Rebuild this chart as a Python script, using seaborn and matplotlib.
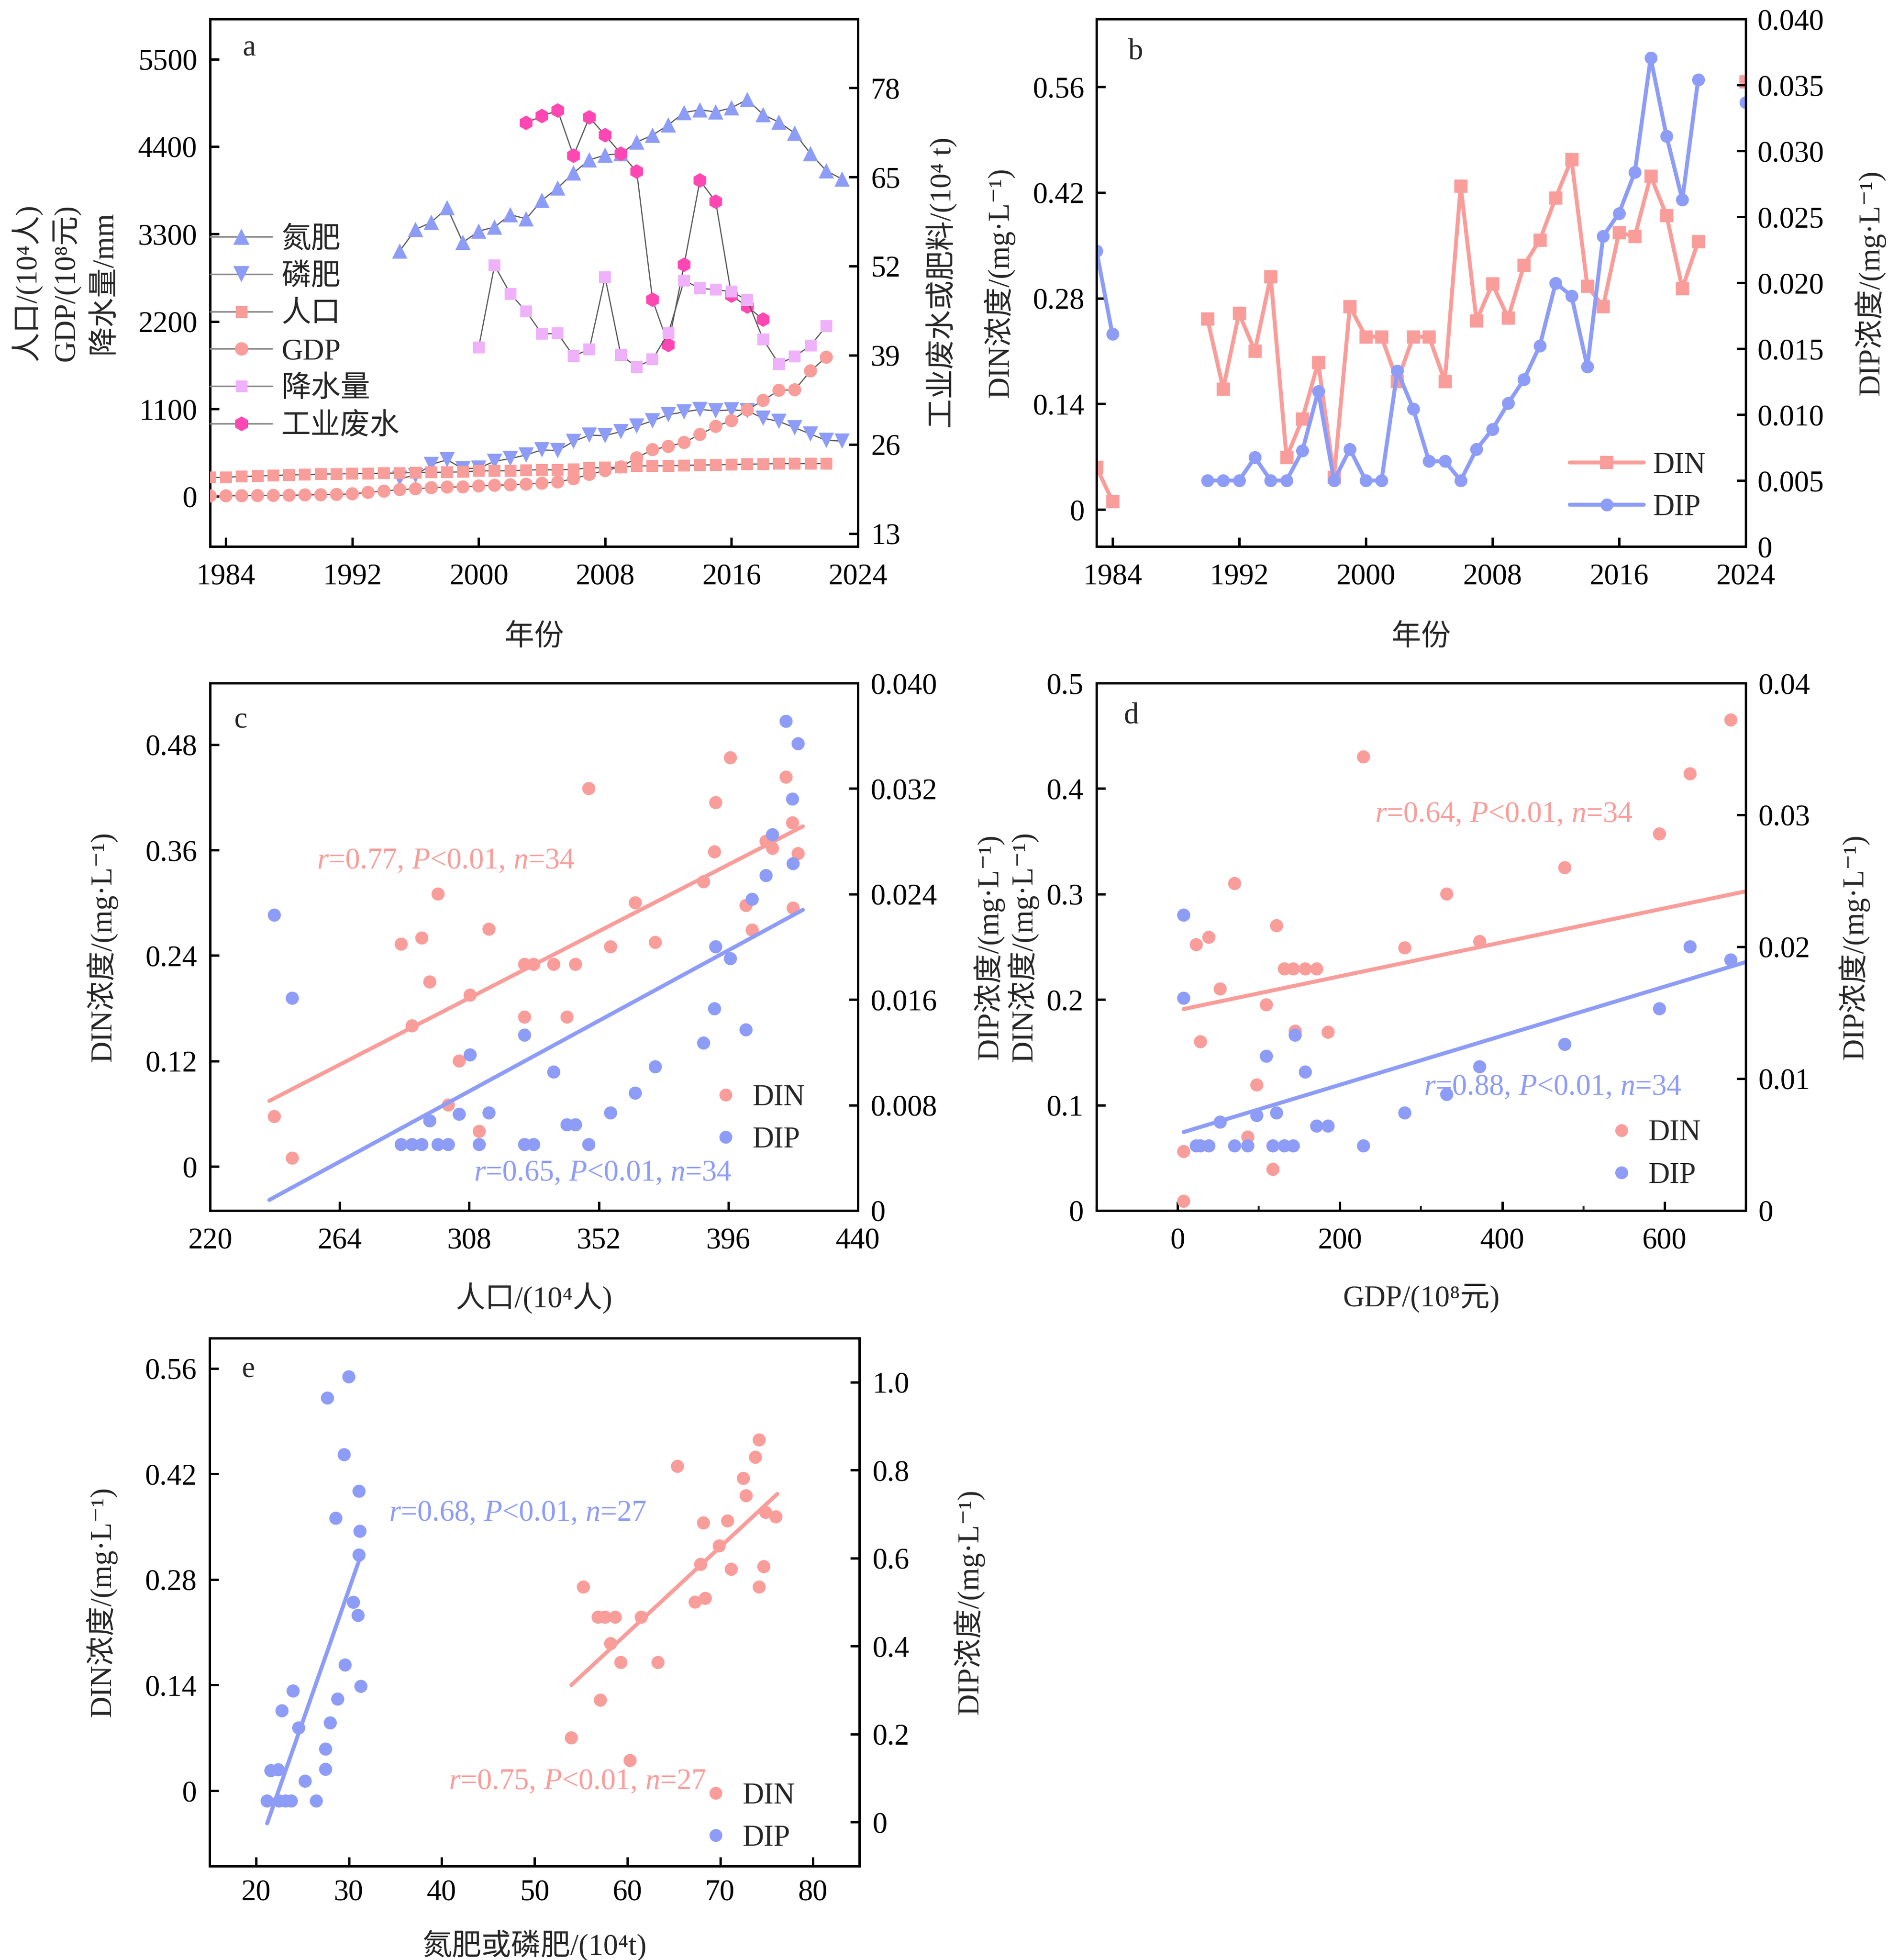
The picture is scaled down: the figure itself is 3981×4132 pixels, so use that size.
import numpy as np
import pandas as pd
import seaborn as sns
import matplotlib.pyplot as plt
from matplotlib.lines import Line2D
from matplotlib.ticker import MultipleLocator

# %% data: panel a (annual series)
years_a = list(range(1983, 2023))
pop = [236, 240, 250, 256, 262, 270, 272, 280, 282, 286, 288, 290, 294, 300, 302, 304, 308, 320, 322, 322, 330,
       336, 332, 340, 356, 362, 366, 382, 384, 384, 390, 394, 396, 402, 404, 408, 412, 412, 412, 414]
gdp = [6, 7, 8, 10, 12, 14, 18, 20, 24, 32, 50, 66, 85, 95, 109, 117, 119, 131, 139, 145, 153,
       165, 181, 221, 276, 324, 370, 485, 588, 628, 678, 779, 880, 952, 1087, 1207, 1334, 1340, 1578, 1750]
years_precip = list(range(2000, 2023))
precip = [1875, 2905, 2548, 2327, 2043, 2049, 1765, 1849, 2753, 1776, 1628, 1723, 2054, 2716, 2616, 2600,
          2574, 2469, 1975, 1665, 1760, 1896, 2143]
years_fert = list(range(1995, 2024))
n_fert = [54.2, 57.35, 58.39, 60.52, 55.46, 57.1, 57.7, 59.5, 58.9, 61.6, 63.4, 65.6, 67.5, 68.2, 68.4, 70.1,
          71.1, 72.6, 74.4, 74.8, 74.5, 75.1, 76.3, 74.1, 73.0, 71.4, 68.4, 65.9, 64.7]
p_fert = [21.05, 21.44, 23.06, 23.75, 22.43, 22.54, 23.51, 23.93, 24.44, 25.2, 25.08, 26.42, 27.34, 27.27,
          27.85, 28.66, 29.42, 30.32, 30.73, 31.08, 30.89, 31.03, 30.89, 29.81, 29.35, 28.42, 27.5, 26.58, 26.47]
years_waste = list(range(2003, 2019))
waste = [72.9, 73.9, 74.7, 68.1, 73.7, 71.1, 68.4, 65.8, 47.1, 40.5, 52.2, 64.5, 61.4, 47.7, 46.1, 44.2]

# %% data: panel b (DIN / DIP by year, gaps between segments)
years_b = [1983, 1984] + list(range(1990, 2022)) + [2024]
seg_b = [0, 0] + [1] * 32 + [2]
din_b = [0.056, 0.011,
         0.253, 0.160, 0.260, 0.210, 0.309, 0.069, 0.120, 0.195, 0.043, 0.269, 0.229, 0.229, 0.170, 0.229,
         0.229, 0.170, 0.429, 0.250, 0.299, 0.254, 0.324, 0.357, 0.413, 0.464, 0.296, 0.269, 0.367, 0.362,
         0.442, 0.390, 0.293, 0.355,
         0.567]
dip_b = [0.0224, 0.0161,
         0.005, 0.005, 0.005, 0.00675, 0.005, 0.005, 0.00725, 0.01178, 0.005, 0.00738, 0.005, 0.005, 0.0133,
         0.01045, 0.00646, 0.00646, 0.005, 0.00738, 0.00887, 0.01086, 0.01267, 0.01523, 0.01998, 0.019,
         0.01362, 0.02353, 0.02527, 0.02838, 0.03705, 0.03113, 0.02629, 0.03541,
         0.03366]

# %% data: panel c (vs population)
c_din_x = [241.8, 247.9, 284.9, 291.9, 294.6, 297.4, 300.9, 288.6, 304.6, 308.3, 311.4, 314.7, 326.8, 329.9,
           326.8, 336.7, 341.2, 344.1, 348.6, 356.0, 364.4, 371.2, 387.6, 391.3, 391.7, 396.7, 402.0, 404.1,
           408.8, 411.0, 415.6, 417.8, 419.7, 418.0]
c_din_y = [0.0569, 0.0096, 0.253, 0.260, 0.210, 0.310, 0.070, 0.160, 0.120, 0.195, 0.040, 0.270, 0.230, 0.230,
           0.170, 0.230, 0.170, 0.230, 0.430, 0.250, 0.300, 0.255, 0.324, 0.358, 0.414, 0.465, 0.297, 0.269,
           0.370, 0.362, 0.443, 0.391, 0.356, 0.294]
c_dip_x = [241.8, 247.9, 284.9, 288.6, 291.9, 294.6, 297.4, 300.9, 304.6, 308.3, 311.4, 314.7, 326.8, 326.8,
           329.9, 336.7, 341.2, 344.1, 348.6, 356.0, 364.4, 371.2, 387.6, 391.3, 391.7, 396.7, 402.0, 404.1,
           408.8, 411.0, 415.6, 417.8, 419.7, 418.0]
c_dip_y = [0.0224, 0.0161, 0.0050, 0.0050, 0.0050, 0.0068, 0.0050, 0.0050, 0.0073, 0.0118, 0.0050, 0.0074,
           0.0133, 0.0050, 0.0050, 0.0105, 0.0065, 0.0065, 0.0050, 0.0074, 0.0089, 0.0109, 0.0127, 0.0153,
           0.0200, 0.0191, 0.0137, 0.0236, 0.0254, 0.0285, 0.0371, 0.0312, 0.0354, 0.0263]

# %% data: panel d (vs GDP)
d_x = [7.4, 7.4, 22.9, 28.1, 38.4, 52.4, 70.2, 86.4, 97.5, 109.3, 117.4, 121.9, 131.5, 142.5, 144.8, 157.3,
       171.3, 185.4, 229.0, 279.9, 331.6, 372.2, 477.1, 593.8, 631.5, 681.7]
d_din_y = [0.0088, 0.0559, 0.252, 0.160, 0.259, 0.210, 0.310, 0.0696, 0.119, 0.195, 0.039, 0.270, 0.229,
           0.229, 0.170, 0.229, 0.229, 0.169, 0.430, 0.249, 0.300, 0.255, 0.325, 0.357, 0.414, 0.465]
d_dip_y = [0.0224, 0.0161, 0.0049, 0.0049, 0.0049, 0.0067, 0.0049, 0.0049, 0.0072, 0.0117, 0.0049, 0.0074,
           0.0049, 0.0049, 0.0133, 0.0105, 0.0064, 0.0064, 0.0049, 0.0074, 0.0088, 0.0109, 0.0126, 0.0153,
           0.0200, 0.0190]

# %% data: panel e (vs fertiliser)
e_din_x = [53.97, 55.27, 56.85, 57.6, 58.7, 57.1, 58.2, 59.3, 60.3, 61.5, 63.3, 65.4, 67.3, 68.2, 67.9, 68.4,
           69.9, 70.8, 71.2, 72.5, 72.8, 73.8, 74.2, 74.2, 74.7, 74.9, 76.0]
e_din_y = [0.070, 0.270, 0.230, 0.230, 0.230, 0.120, 0.195, 0.170, 0.040, 0.230, 0.170, 0.430, 0.250, 0.355,
           0.300, 0.255, 0.3245, 0.3576, 0.2935, 0.414, 0.391, 0.442, 0.465, 0.270, 0.297, 0.369, 0.363]
e_dip_x = [21.2, 22.5, 23.2, 23.8, 26.5, 21.6, 22.4, 22.8, 24.0, 24.6, 25.3, 27.5, 27.5, 28.0, 28.8, 27.7,
           30.0, 29.5, 28.6, 31.1, 31.2, 31.1, 30.5, 31.0, 29.6, 31.3]
e_dip_y = [0.048, 0.048, 0.048, 0.048, 0.048, 0.117, 0.119, 0.253, 0.298, 0.214, 0.093, 0.120, 0.166, 0.2255,
           0.2796, 0.9637, 1.012, 0.835, 0.6906, 0.752, 0.661, 0.607, 0.4995, 0.4697, 0.357, 0.3085]

# regression lines: (x_start, x_end, slope, intercept)
fit_c_din = (240.1, 421.3, 0.0017235, -0.3391)
fit_c_dip = (240.1, 421.3, 1.2141e-4, -0.02835)
fit_d_din = (7.4, 720, 0.0001611, 0.1898)
fit_d_dip = (7.4, 720, 1.861e-5, 0.00581)
fit_e_din = (53.97, 76.16, 0.01142, -0.4763)
fit_e_dip = (21.2, 31.16, 0.06032, -1.2816)

stats_c = ("0.77", "0.65", "34")
stats_d = ("0.64", "0.88", "34")
stats_e = ("0.75", "0.68", "27")

# %% style
sns.set_style("ticks")
plt.rcParams['font.family'] = ['Liberation Serif', 'Noto Sans CJK SC', 'DejaVu Serif']
plt.rcParams['mathtext.fontset'] = 'custom'
plt.rcParams['mathtext.rm'] = 'Liberation Serif'
plt.rcParams['mathtext.it'] = 'Liberation Serif:italic'
plt.rcParams['axes.unicode_minus'] = False

FS = 15
RED = '#F99D9A'
BLUE = '#8D9CF7'
PRECIP = '#EEB1FA'
WASTE = '#FF47B3'
GRAY = '#5a5a5a'
UNIT = "浓度/(mg·L⁻¹)"

fig = plt.figure(figsize=(3981 / 300, 4132 / 300), dpi=300)


def style(ax, xpad=8.5, ypad=6.5):
    for sp in ax.spines.values():
        sp.set_linewidth(1.2)
        sp.set_color('black')
        sp.set_visible(True)
    ax.tick_params(direction='in', length=4.5, width=1.2, labelsize=FS, colors='black')
    ax.tick_params(axis='x', pad=xpad)
    ax.tick_params(axis='y', pad=ypad)
    ax.tick_params(which='minor', direction='in', length=2.5, width=1.0)


def fmt(vals, nd):
    return ["0" if v == 0 else f"{v:.{nd}f}" for v in vals]


def stat_text(r, n):
    return r"$\mathit{r}$=" + r + r", $\mathit{P}$<0.01, $\mathit{n}$=" + n


def fitline(ax, fit, color):
    x0, x1, k, b = fit
    xs = np.array([x0, x1])
    sns.lineplot(x=xs, y=k * xs + b, color=color, lw=2.0, ax=ax, legend=False)


def dot_legend(ax, x, y):
    hs = [Line2D([], [], ls='none', marker='o', ms=6.5, mfc=RED, mec='none'),
          Line2D([], [], ls='none', marker='o', ms=6.5, mfc=BLUE, mec='none')]
    ax.legend(hs, ['DIN', 'DIP'], loc='center left', bbox_to_anchor=(x, y), frameon=False, fontsize=FS,
              borderpad=0, borderaxespad=0, handlelength=1.0, handletextpad=0.4, labelspacing=0.5)


# %% panel a
ax = fig.add_axes([0.1113, 0.7212, 0.3431, 0.2691])
ax2 = ax.twinx()
ax.set_zorder(ax2.get_zorder() + 1)
ax.patch.set_visible(False)

for xs, ys, a, mk, col, s in [(years_fert, n_fert, ax2, '^', BLUE, 60),
                              (years_fert, p_fert, ax2, 'v', BLUE, 60),
                              (years_waste, waste, ax2, 'h', WASTE, 55),
                              (years_a, pop, ax, 's', RED, 36),
                              (years_a, gdp, ax, 'o', RED, 44),
                              (years_precip, precip, ax, 's', PRECIP, 36)]:
    sns.lineplot(x=xs, y=ys, color=GRAY, lw=0.6, ax=a, legend=False)
    sns.scatterplot(x=xs, y=ys, marker=mk, s=s, color=col, edgecolor='none', linewidth=0, ax=a,
                    legend=False, zorder=3)

ax.set_xlim(1983, 2024)
ax.set_ylim(-630, 6004)
ax2.set_ylim(11.1, 88.05)
ax.set_xticks([1984, 1992, 2000, 2008, 2016, 2024])
ax.set_yticks([0, 1100, 2200, 3300, 4400, 5500])
ax2.set_yticks([13, 26, 39, 52, 65, 78])
style(ax)
style(ax2)
ax.set_xlabel("年份", fontsize=FS, labelpad=17)
ax.set_ylabel("人口/(10⁴人)\nGDP/(10⁸元)\n降水量/mm", fontsize=FS, labelpad=10, linespacing=1.45)
ax2.set_ylabel("工业废水或肥料/(10⁴ t)", fontsize=FS, labelpad=13)
ax.text(0.05, 0.945, 'a', transform=ax.transAxes, fontsize=FS, va='center')

hs = [Line2D([], [], color='#888888', lw=0.8, marker=m, ms=ms, mfc=c, mec='none')
      for m, ms, c in [('^', 8, BLUE), ('v', 8, BLUE), ('s', 6, RED), ('o', 6.8, RED), ('s', 6, PRECIP),
                       ('h', 7.5, WASTE)]]
ax.legend(hs, ['氮肥', '磷肥', '人口', 'GDP', '降水量', '工业废水'], loc='center left',
          bbox_to_anchor=(0, 0.404), frameon=False, fontsize=FS, borderpad=0, borderaxespad=0,
          handlelength=2.1, handletextpad=0.3, labelspacing=0.33)

# %% panel b
df_b = pd.DataFrame({'year': years_b, 'seg': seg_b, 'din': din_b, 'dip': dip_b})
axb = fig.add_axes([0.5808, 0.7212, 0.3438, 0.2691])
axb2 = axb.twinx()
sns.lineplot(data=df_b, x='year', y='din', units='seg', estimator=None, color=RED, lw=2.0, marker='s',
             markersize=6.5, markeredgecolor='none', ax=axb, legend=False)
sns.lineplot(data=df_b, x='year', y='dip', units='seg', estimator=None, color=BLUE, lw=2.0, marker='o',
             markersize=6.5, markeredgecolor='none', ax=axb2, legend=False)
axb.set_xlim(1983, 2024)
axb.set_ylim(-0.049, 0.65)
axb2.set_ylim(0, 0.040)
axb.set_xticks([1984, 1992, 2000, 2008, 2016, 2024])
ticks = [0, 0.14, 0.28, 0.42, 0.56]
axb.set_yticks(ticks, fmt(ticks, 2))
ticks = [0, 0.005, 0.010, 0.015, 0.020, 0.025, 0.030, 0.035, 0.040]
axb2.set_yticks(ticks, fmt(ticks, 3))
style(axb, ypad=6)
style(axb2, ypad=6)
axb.set_xlabel("年份", fontsize=FS, labelpad=17)
axb.set_ylabel("DIN" + UNIT, fontsize=FS, labelpad=9)
axb2.set_ylabel("DIP" + UNIT, fontsize=FS, labelpad=15)
axb.text(0.049, 0.937, 'b', transform=axb.transAxes, fontsize=FS, va='center')
hs = [Line2D([], [], color=RED, lw=2.0, marker='s', ms=6.5, mec='none'),
      Line2D([], [], color=BLUE, lw=2.0, marker='o', ms=6.5, mec='none')]
axb2.legend(hs, ['DIN', 'DIP'], loc='center left', bbox_to_anchor=(0.729, 0.113), frameon=False, fontsize=FS,
            borderpad=0, borderaxespad=0, handlelength=2.5, handletextpad=0.3, labelspacing=0.5)

# %% panel c
axc = fig.add_axes([0.1113, 0.3824, 0.3431, 0.2691])
axc2 = axc.twinx()
sns.scatterplot(x=c_din_x, y=c_din_y, color=RED, s=44, edgecolor='none', linewidth=0, ax=axc, legend=False)
sns.scatterplot(x=c_dip_x, y=c_dip_y, color=BLUE, s=44, edgecolor='none', linewidth=0, ax=axc2, legend=False)
fitline(axc, fit_c_din, RED)
fitline(axc2, fit_c_dip, BLUE)
axc.set_xlim(220, 440)
axc.set_ylim(-0.05, 0.55)
axc2.set_ylim(0, 0.040)
axc.set_xticks([220, 264, 308, 352, 396, 440])
ticks = [0, 0.12, 0.24, 0.36, 0.48]
axc.set_yticks(ticks, fmt(ticks, 2))
ticks = [0, 0.008, 0.016, 0.024, 0.032, 0.040]
axc2.set_yticks(ticks, fmt(ticks, 3))
style(axc)
style(axc2)
axc.set_xlabel("人口/(10⁴人)", fontsize=FS, labelpad=14)
axc.set_ylabel("DIN" + UNIT, fontsize=FS, labelpad=14)
axc.text(0.037, 0.929, 'c', transform=axc.transAxes, fontsize=FS, va='center')
axc2.text(0.165, 0.662, stat_text(stats_c[0], stats_c[2]), color=RED, transform=axc.transAxes, fontsize=FS,
          va='center')
axc2.text(0.407, 0.070, stat_text(stats_c[1], stats_c[2]), color=BLUE, transform=axc.transAxes, fontsize=FS,
          va='center')
dot_legend(axc2, 0.773, 0.173)

# %% panel d
axd = fig.add_axes([0.5808, 0.3824, 0.3438, 0.2691])
axd2 = axd.twinx()
sns.scatterplot(x=d_x, y=d_din_y, color=RED, s=44, edgecolor='none', linewidth=0, ax=axd, legend=False)
sns.scatterplot(x=d_x, y=d_dip_y, color=BLUE, s=44, edgecolor='none', linewidth=0, ax=axd2, legend=False)
fitline(axd, fit_d_din, RED)
fitline(axd2, fit_d_dip, BLUE)
axd.set_xlim(-100, 700)
axd.set_ylim(0, 0.5)
axd2.set_ylim(0, 0.04)
axd.set_xticks([0, 200, 400, 600])
axd.xaxis.set_minor_locator(MultipleLocator(100))
ticks = [0, 0.1, 0.2, 0.3, 0.4, 0.5]
axd.set_yticks(ticks, fmt(ticks, 1))
ticks = [0, 0.01, 0.02, 0.03, 0.04]
axd2.set_yticks(ticks, fmt(ticks, 2))
style(axd)
style(axd2)
axd.set_xlabel("GDP/(10⁸元)", fontsize=FS, labelpad=15)
axd.set_ylabel("DIP" + UNIT + "\n" + "DIN" + UNIT, fontsize=FS, labelpad=4, linespacing=1.1)
axd2.set_ylabel("DIP" + UNIT, fontsize=FS, labelpad=14)
axd.text(0.042, 0.937, 'd', transform=axd.transAxes, fontsize=FS, va='center')
axd2.text(0.429, 0.750, stat_text(stats_d[0], stats_d[2]), color=RED, transform=axd.transAxes, fontsize=FS,
          va='center')
axd2.text(0.504, 0.233, stat_text(stats_d[1], stats_d[2]), color=BLUE, transform=axd.transAxes, fontsize=FS,
          va='center')
dot_legend(axd2, 0.786, 0.106)

# %% panel e
axe = fig.add_axes([0.111, 0.0479, 0.3442, 0.2694])
axe2 = axe.twinx()
sns.scatterplot(x=e_din_x, y=e_din_y, color=RED, s=44, edgecolor='none', linewidth=0, ax=axe, legend=False)
sns.scatterplot(x=e_dip_x, y=e_dip_y, color=BLUE, s=44, edgecolor='none', linewidth=0, ax=axe2, legend=False)
fitline(axe, fit_e_din, RED)
fitline(axe2, fit_e_dip, BLUE)
axe.set_xlim(15, 85)
axe.set_ylim(-0.1, 0.6)
axe2.set_ylim(-0.1, 1.1)
axe.set_xticks([20, 30, 40, 50, 60, 70, 80])
ticks = [0, 0.14, 0.28, 0.42, 0.56]
axe.set_yticks(ticks, fmt(ticks, 2))
ticks = [0, 0.2, 0.4, 0.6, 0.8, 1.0]
axe2.set_yticks(ticks, fmt(ticks, 1))
style(axe, xpad=6.5)
style(axe2, xpad=6.5)
axe.set_xlabel("氮肥或磷肥/(10⁴t)", fontsize=FS, labelpad=12)
axe.set_ylabel("DIN" + UNIT, fontsize=FS, labelpad=14)
axe2.set_ylabel("DIP" + UNIT, fontsize=FS, labelpad=22)
axe.text(0.049, 0.94, 'e', transform=axe.transAxes, fontsize=FS, va='center')
axe2.text(0.276, 0.668, stat_text(stats_e[1], stats_e[2]), color=BLUE, transform=axe.transAxes, fontsize=FS,
          va='center')
axe2.text(0.368, 0.159, stat_text(stats_e[0], stats_e[2]), color=RED, transform=axe.transAxes, fontsize=FS,
          va='center')
dot_legend(axe2, 0.756, 0.092)

fig.savefig("out.png", dpi=300)
